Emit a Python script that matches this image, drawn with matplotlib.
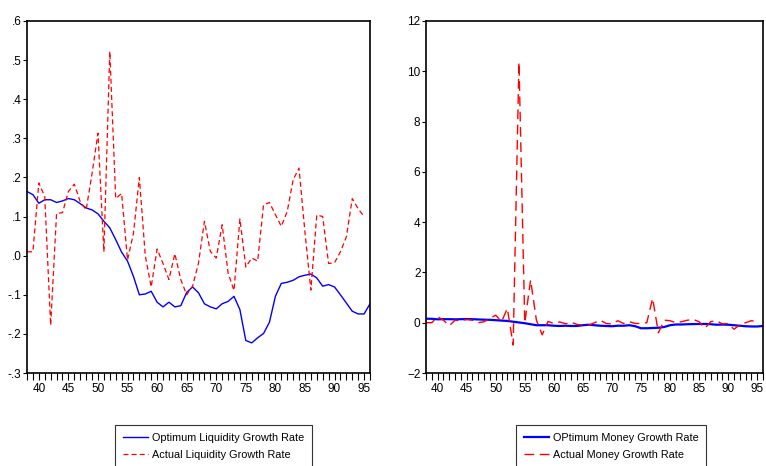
import numpy as np
import matplotlib
matplotlib.use("Agg")
import matplotlib.pyplot as plt
from matplotlib.ticker import MultipleLocator, FixedLocator

plt.rcParams['font.family'] = ['Liberation Sans Narrow', 'Liberation Sans', 'DejaVu Sans']

years = list(range(38, 97))

opt_liquidity = [0.164, 0.156, 0.134, 0.143, 0.143, 0.136, 0.140, 0.146, 0.143, 0.133,
                 0.122, 0.117, 0.107, 0.088, 0.071, 0.041, 0.009, -0.014, -0.053, -0.100,
                 -0.098, -0.091, -0.119, -0.131, -0.119, -0.131, -0.128, -0.094, -0.080, -0.095,
                 -0.123, -0.131, -0.136, -0.123, -0.117, -0.104, -0.138, -0.217, -0.223, -0.210,
                 -0.199, -0.170, -0.104, -0.071, -0.068, -0.063, -0.054, -0.050, -0.047, -0.057,
                 -0.078, -0.074, -0.080, -0.100, -0.121, -0.142, -0.149, -0.149, -0.123]

act_liquidity = [0.010, 0.010, 0.186, 0.151, -0.178, 0.108, 0.110, 0.164, 0.183, 0.138,
                 0.117, 0.210, 0.313, 0.010, 0.522, 0.146, 0.159, -0.011, 0.057, 0.200,
                 0.000, -0.080, 0.017, -0.020, -0.061, 0.005, -0.061, -0.100, -0.078, -0.019,
                 0.088, 0.011, -0.006, 0.079, -0.044, -0.089, 0.094, -0.029, -0.006, -0.014,
                 0.130, 0.136, 0.105, 0.075, 0.113, 0.194, 0.224, 0.060, -0.088, 0.104,
                 0.100, -0.020, -0.018, 0.010, 0.048, 0.146, 0.120, 0.100, np.nan]

opt_money = [0.16, 0.155, 0.135, 0.14, 0.14, 0.135, 0.14, 0.145, 0.14, 0.13,
             0.12, 0.115, 0.10, 0.085, 0.07, 0.04, 0.01, -0.02, -0.06, -0.10,
             -0.10, -0.10, -0.12, -0.13, -0.12, -0.13, -0.13, -0.10, -0.08, -0.10,
             -0.12, -0.13, -0.14, -0.12, -0.12, -0.10, -0.14, -0.22, -0.22, -0.21,
             -0.20, -0.17, -0.10, -0.07, -0.07, -0.06, -0.055, -0.05, -0.05, -0.06,
             -0.08, -0.075, -0.08, -0.10, -0.12, -0.14, -0.15, -0.15, -0.13]

act_money = [0.0, 0.0, 0.24, 0.10, -0.12, 0.10, 0.08, 0.13, 0.10, 0.0,
             0.04, 0.17, 0.30, 0.04, 0.57, -0.89, 10.37, -0.01, 1.70, 0.10,
             -0.48, 0.05, -0.03, 0.03, -0.04, 0.02, -0.07, -0.09, -0.10, 0.0,
             0.10, -0.03, -0.05, 0.08, -0.03, 0.04, -0.03, -0.03, 0.0, 0.97,
             -0.40, 0.10, 0.08, 0.0, 0.04, 0.10, 0.13, 0.04, -0.22, 0.04,
             0.08, -0.05, -0.03, -0.26, -0.09, 0.0, 0.08, 0.04, np.nan]

left_yticks = [0.6, 0.5, 0.4, 0.3, 0.2, 0.1, 0.0, -0.1, -0.2, -0.3]
left_ylabels = ['.6', '.5', '.4', '.3', '.2', '.1', '.0', '-.1', '-.2', '-.3']
right_yticks = [12, 10, 8, 6, 4, 2, 0, -2]
xticks = [40, 45, 50, 55, 60, 65, 70, 75, 80, 85, 90, 95]

W, H = 766, 466
fig = plt.figure(figsize=(W / 100, H / 100), dpi=100)
ax1 = fig.add_axes([27 / W, 1 - 373 / H, (370 - 27) / W, (373 - 21) / H])
ax2 = fig.add_axes([426 / W, 1 - 373 / H, (763 - 426) / W, (373 - 21) / H])

ax1.plot(years, opt_liquidity, color='#0000ff', lw=1.0, label='Optimum Liquidity Growth Rate')
ax1.plot(years, act_liquidity, color='#ff0000', lw=0.9, dashes=(4, 2.5), label='Actual Liquidity Growth Rate')
ax1.set_ylim(-0.3, 0.6)
ax1.set_yticks(left_yticks)
ax1.set_yticklabels(left_ylabels)

ax2.plot(years, opt_money, color='#0000ff', lw=1.6, label='OPtimum Money Growth Rate')
ax2.plot(years, act_money, color='#ff0000', lw=1.0, dashes=(7, 4), label='Actual Money Growth Rate')
ax2.set_ylim(-2, 12)
ax2.set_yticks(right_yticks)

for ax in (ax1, ax2):
    ax.set_xlim(38, 96)
    ax.xaxis.set_major_locator(FixedLocator(xticks))
    ax.xaxis.set_minor_locator(MultipleLocator(1))
    ax.tick_params(axis='x', which='both', direction='out', length=5, width=0.8,
                   labelsize=8.5, pad=2, color='black')
    ax.tick_params(axis='y', which='both', direction='out', length=3, width=0.8,
                   labelsize=8.5, pad=1, color='black')
    for s in ax.spines.values():
        s.set_color('black')
        s.set_linewidth(1.2)

common = dict(loc='upper left', bbox_transform=fig.transFigure, fontsize=7.8, frameon=True,
              fancybox=False, edgecolor='black', handlelength=2.3, handletextpad=0.4,
              borderpad=0.7, labelspacing=0.65, borderaxespad=0)
leg1 = ax1.legend(bbox_to_anchor=(115 / W, 1 - 425 / H), **common)
leg1.get_frame().set_linewidth(0.8)
leg2 = ax2.legend(bbox_to_anchor=(516 / W, 1 - 425 / H), **common)
leg2.get_frame().set_linewidth(0.8)

fig.savefig('out.png', dpi=100)
